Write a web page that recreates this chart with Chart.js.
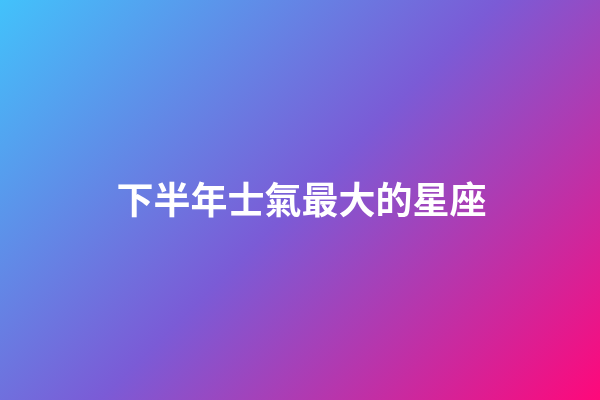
<!DOCTYPE html>
<html>
<head>
<meta charset="utf-8">
<script src="https://cdn.jsdelivr.net/npm/chart.js@4"></script>
<style>
  html, body { margin: 0; padding: 0; background: #7b5bd6; }
  #wrap { width: 600px; height: 400px; }
</style>
</head>
<body>
<div id="wrap"><canvas id="chart" width="600" height="400"></canvas></div>
<script>
// Nothing is plotted in the reference, only the heading over a gradient
const categories = [];
const values = [];
const titleText = "下半年士氣最大的星座";

// Diagonal background (135deg style), colours
const gradientStops = [
  [0, "#42c2fb"],
  [0.5, "#7b5bd6"],
  [1, "#ff087a"]
];

const gradientBackground = {
  id: "gradientBackground",
  beforeDraw(chart) {
    const { ctx, width, height } = chart;
    // gradient line for 135deg across the full canvas
    const half = (width + height) / 4;
    const cx = width / 2, cy = height / 2;
    const g = ctx.createLinearGradient(cx - half, cy - half, cx + half, cy + half);
    gradientStops.forEach(([pos, col]) => g.addColorStop(pos, col));
    ctx.save();
    ctx.fillStyle = g;
    ctx.fillRect(0, 0, width, height);
    ctx.restore();
  }
};

new Chart(document.getElementById("chart"), {
  type: "bar",
  data: {
    labels: categories,
    datasets: [{ data: values }]
  },
  options: {
    responsive: false,
    animation: false,
    devicePixelRatio: 1,
    layout: { padding: { left: 3, top: 0, right: 0, bottom: 0 } },
    scales: {
      x: { display: false },
      y: { display: false }
    },
    plugins: {
      legend: { display: false },
      tooltip: { enabled: false },
      title: {
        display: true,
        text: titleText,
        color: "#ffffff",
        font: { family: "'Noto Sans CJK TC', 'Noto Sans CJK SC', sans-serif", size: 37, weight: "bold", lineHeight: 1.2 },
        padding: { top: 178, bottom: 0 }
      }
    }
  },
  plugins: [gradientBackground]
});
</script>
</body>
</html>
